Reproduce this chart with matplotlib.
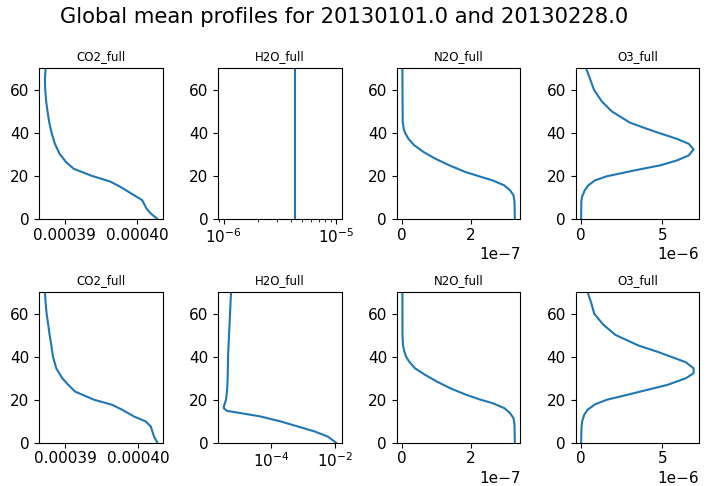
import numpy as np
from matplotlib import pyplot as plt

# Profiles (altitude in km, mixing ratio)
title = 'Global mean profiles for 20130101.0 and 20130228.0'
species = ['CO2_full', 'H2O_full', 'N2O_full', 'O3_full']

# 20130101.0
alt_co2_a = [70, 65, 60, 54.4, 50, 45, 40, 35, 30.3, 26.4, 23.3, 20, 17.4,
             15, 11.7, 8.7, 4.8, 2.5, 0]
co2_a = [0.00038734, 0.00038725, 0.00038729, 0.00038743, 0.00038761,
         0.00038784, 0.00038817, 0.00038862, 0.00038927, 0.00039018,
         0.00039124, 0.00039376, 0.00039628, 0.00039766, 0.00039927,
         0.00040073, 0.00040133, 0.00040193, 0.00040284]

alt_h2o_a = [70, 0]
h2o_a = [4.29e-6, 4.29e-6]

alt_n2o_a = [70, 60, 50, 45, 41.9, 40, 37.2, 34.2, 31.1, 28, 24.9, 21.8,
             19.8, 17.9, 15.6, 13.3, 11, 7.9, 0]
n2o_a = [0.003e-7, 0.005e-7, 0.01e-7, 0.012e-7, 0.04e-7, 0.08e-7, 0.18e-7,
         0.35e-7, 0.62e-7, 0.96e-7, 1.37e-7, 1.84e-7, 2.24e-7, 2.63e-7,
         2.97e-7, 3.14e-7, 3.24e-7, 3.27e-7, 3.28e-7]

alt_o3_a = [70, 65, 60, 54.6, 50, 44.7, 41.9, 40, 37.2, 34.9, 32.3, 29.5,
            27.2, 24.9, 22.6, 19.8, 17.9, 15.6, 13.3, 10.2, 7.9, 0]
o3_a = [0.31e-6, 0.56e-6, 0.80e-6, 1.28e-6, 1.89e-6, 3.02e-6, 4.05e-6,
        4.77e-6, 5.91e-6, 6.63e-6, 6.93e-6, 6.63e-6, 5.91e-6, 4.88e-6,
        3.33e-6, 1.58e-6, 0.86e-6, 0.45e-6, 0.23e-6, 0.06e-6, 0.02e-6,
        0.01e-6]

# 20130228.0
alt_co2_b = [70, 65.4, 60, 54.7, 50.1, 45.4, 40, 34.6, 30, 26.9, 23.8, 20,
             17.6, 15.3, 12.2, 9.9, 7.6, 5.3, 2.9, 0]
co2_b = [0.00038726, 0.00038735, 0.00038749, 0.00038772, 0.00038790,
         0.00038813, 0.00038836, 0.00038881, 0.00038963, 0.00039046,
         0.00039137, 0.00039397, 0.00039648, 0.00039785, 0.00039945,
         0.00040105, 0.00040174, 0.00040196, 0.00040219, 0.00040265]

alt_h2o_b = [70, 60, 50.1, 40, 30, 23.8, 20, 17.6, 16.1, 14.8, 13.8, 12.2,
             9.9, 7.6, 5.3, 2.9, 0]
h2o_b = [5.75e-6, 5.36e-6, 4.99e-6, 4.65e-6, 4.53e-6, 4.32e-6, 4.02e-6,
         3.56e-6, 3.40e-6, 4.32e-6, 1.13e-5, 4.75e-5, 2.00e-4, 6.65e-4,
         2.21e-3, 5.75e-3, 1.05e-2]

alt_n2o_b = [70, 60, 50.1, 45.4, 42.3, 40, 37.7, 34.6, 31.5, 28.4, 25.3,
             22.3, 20, 18.4, 16.1, 13.8, 11.4, 8.3, 0]
n2o_b = [0.003e-7, 0.004e-7, 0.005e-7, 0.02e-7, 0.06e-7, 0.11e-7, 0.20e-7,
         0.37e-7, 0.67e-7, 1.01e-7, 1.40e-7, 1.86e-7, 2.28e-7, 2.63e-7,
         2.97e-7, 3.14e-7, 3.24e-7, 3.27e-7, 3.28e-7]

alt_o3_b = [70, 65.4, 60, 55, 50.1, 45.1, 42.3, 40, 37.4, 34.6, 32.3, 30,
            26.9, 23.8, 21.5, 20, 17.9, 15.3, 13, 9.9, 6.8, 0]
o3_b = [0.41e-6, 0.62e-6, 0.82e-6, 1.36e-6, 2.12e-6, 3.56e-6, 4.69e-6,
        5.51e-6, 6.44e-6, 6.91e-6, 6.91e-6, 6.44e-6, 5.31e-6, 3.66e-6,
        2.43e-6, 1.60e-6, 0.88e-6, 0.41e-6, 0.21e-6, 0.08e-6, 0.04e-6,
        0.02e-6]

rows = [
    [(alt_co2_a, co2_a), (alt_h2o_a, h2o_a), (alt_n2o_a, n2o_a),
     (alt_o3_a, o3_a)],
    [(alt_co2_b, co2_b), (alt_h2o_b, h2o_b), (alt_n2o_b, n2o_b),
     (alt_o3_b, o3_b)],
]

plt.rcParams['xtick.labelsize'] = 11
plt.rcParams['ytick.labelsize'] = 11
plt.rcParams['xtick.major.pad'] = 2.8

fig, axes = plt.subplots(2, 4, figsize=(7.07, 4.86), dpi=100)
fig.subplots_adjust(left=0.0556, right=0.989, top=0.8595, bottom=0.089,
                    wspace=0.445, hspace=0.486)

for r, row in enumerate(rows):
    for c, (alt, val) in enumerate(row):
        ax = axes[r, c]
        ax.plot(val, alt)
        if species[c] == 'H2O_full':
            ax.set_xscale('log')
        ax.set_ylim(0, 70)
        ax.set_title(species[c], fontsize=8.5)

fig.suptitle(title, fontsize=15.2, x=0.487, y=0.985)

fig.savefig('out.png')
